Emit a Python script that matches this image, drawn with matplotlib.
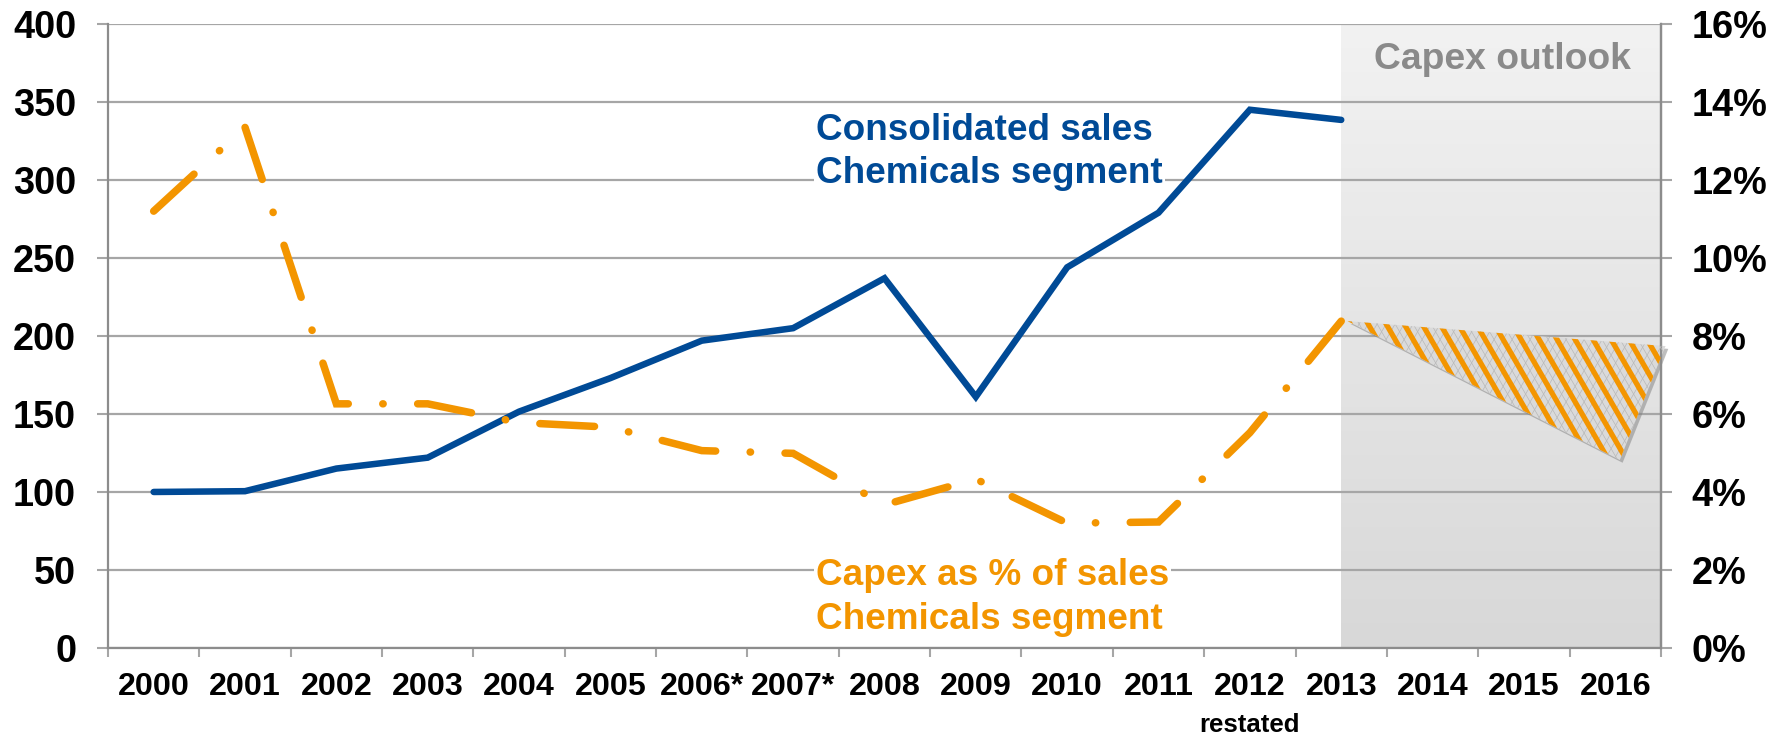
import matplotlib
matplotlib.use("Agg")
import matplotlib.pyplot as plt
import matplotlib.patheffects as pe
from matplotlib.patches import Polygon
from matplotlib.collections import LineCollection
from matplotlib.transforms import blended_transform_factory, IdentityTransform
from matplotlib.colors import LinearSegmentedColormap
import numpy as np

# ---------------- data ----------------
years = ['2000', '2001', '2002', '2003', '2004', '2005', '2006*', '2007*',
         '2008', '2009', '2010', '2011', '2012', '2013', '2014', '2015', '2016']
sales = [100, 100.5, 115, 122, 151.5, 173, 197, 205, 237, 161, 244, 279, 345, 338.5]
capex_pct = [11.2, 13.35, 6.26, 6.26, 5.78, 5.66, 5.06, 4.99, 3.67, 4.33, 3.2, 3.23, 5.52, 8.38]
# outlook wedge: start (2013), upper end, lower end (2016)
outlook_pct = [8.38, 7.74, 4.82]
left_ticks = [0, 50, 100, 150, 200, 250, 300, 350, 400]
right_ticks = [0, 2, 4, 6, 8, 10, 12, 14, 16]

BLUE = '#004a96'
ORANGE = '#f39500'
GRID = '#a6a6a6'
FONT = 'Liberation Sans'

plt.rcParams['font.family'] = [FONT, 'DejaVu Sans']
plt.rcParams['font.weight'] = 'bold'

fig = plt.figure(figsize=(17.85, 7.37), dpi=100)
ax = fig.add_axes([0.0605, 0.1208, 0.8700, 0.8467])
ax2 = ax.twinx()

n = len(years)
x_all = np.arange(n)
i2013 = years.index('2013')
i2016 = years.index('2016')

# shaded outlook area (vertical gradient, light at top)
grad = np.linspace(0, 1, 256).reshape(-1, 1)
cmap = LinearSegmentedColormap.from_list('g', ['#f2f2f2', '#d8d8d8'])
ax.imshow(grad, cmap=cmap, aspect='auto', extent=[i2013, n - 0.5, 0, 400],
          origin='upper', zorder=0)
ax.set_xlim(-0.5, n - 0.5)
ax.set_ylim(0, 400)
ax2.set_ylim(0, 16)

# grid
ax.set_axisbelow(True)
ax.yaxis.grid(True, color=GRID, linewidth=1.6)
ax.set_yticks(left_ticks)
ax.set_yticklabels([str(v) for v in left_ticks])
ax2.set_yticks(right_ticks)
ax2.set_yticklabels([f'{v}%' for v in right_ticks])

# x ticks
ax.set_xticks(x_all)
ax.set_xticklabels(years)
ax.set_xticks(np.arange(-0.5, n, 1.0), minor=True)
ax.tick_params(axis='x', which='major', length=0, pad=17.5, labelsize=23.2, labelcolor='black')
ax.tick_params(axis='x', which='minor', length=6.5, width=1.5, color=GRID, direction='out')
ax.tick_params(axis='y', which='major', length=8, width=1.5, color=GRID, pad=15, labelsize=27.3)
ax2.tick_params(axis='y', which='major', length=8, width=1.5, color=GRID, pad=14, labelsize=27.3)

for a in (ax, ax2):
    a.spines['top'].set_visible(False)
    for s in ('left', 'right', 'bottom'):
        a.spines[s].set_color('#8c8c8c')
        a.spines[s].set_linewidth(1.6)
ax2.spines['left'].set_visible(False)
ax2.spines['bottom'].set_visible(False)

# blue line
ax.plot(x_all[:len(sales)], sales, color=BLUE, linewidth=4.7,
        solid_joinstyle='miter', solid_capstyle='round', zorder=3)

# orange dash-dot line
ax2.plot(x_all[:len(capex_pct)], capex_pct, color=ORANGE, linewidth=5.4,
         linestyle=(0, (7.3, 4.6, 0.05, 4.6)), dash_capstyle='round',
         dash_joinstyle='miter', zorder=3)

# outlook wedge
wedge_x = [i2013 + 0.07, i2016 + 0.55, i2016 + 0.05]
verts = list(zip(wedge_x, outlook_pct))
base = Polygon(verts, closed=True, facecolor='#dadada', edgecolor='none', lw=0,
               zorder=2, clip_on=False,
               path_effects=[pe.SimplePatchShadow(offset=(2, -2), shadow_rgbFace='#7f7f7f', alpha=0.5),
                             pe.Normal()])
ax2.add_patch(base)

# stripes (decorative pattern clipped to the wedge), built in display pixels
pix = ax2.transData.transform(np.array(verts))
xmin, xmax = pix[:, 0].min() - 200, pix[:, 0].max() + 200
ymin, ymax = pix[:, 1].min() - 5, pix[:, 1].max() + 5
H = ymax - ymin

def stripes(angle_deg, spacing, mirror=False):
    dx = H / np.tan(np.radians(angle_deg))
    if mirror:
        dx = -dx
    return [[(c, ymax), (c + dx, ymin)] for c in np.arange(xmin, xmax, spacing)]

lattice1 = LineCollection(stripes(60, 9), colors='#b8b8b8', linewidths=0.5,
                          transform=IdentityTransform(), zorder=2.05)
lattice2 = LineCollection(stripes(60, 9, mirror=True), colors='#b8b8b8', linewidths=0.5,
                          transform=IdentityTransform(), zorder=2.05)
orange_stripes = LineCollection(stripes(60, 18), colors=ORANGE, linewidths=3.8,
                                transform=IdentityTransform(), zorder=2.1)
for lc in (lattice1, lattice2, orange_stripes):
    fig.add_artist(lc)
    lc.set_clip_path(base.get_path(), base.get_transform())

# annotations
bb = dict(facecolor='white', edgecolor='none', pad=1.5)
ax.text(7.25, 325.6, 'Consolidated sales', color=BLUE, fontsize=26.6,
        ha='left', va='baseline', bbox=bb, zorder=4)
ax.text(7.25, 298.3, 'Chemicals segment', color=BLUE, fontsize=26.6,
        ha='left', va='baseline', bbox=bb, zorder=4)
ax.text(7.25, 40.4, 'Capex as % of sales', color=ORANGE, fontsize=26.6,
        ha='left', va='baseline', bbox=bb, zorder=4)
ax.text(7.25, 12.0, 'Chemicals segment', color=ORANGE, fontsize=26.6,
        ha='left', va='baseline', bbox=bb, zorder=4)
ax.text((i2013 + n - 0.5) / 2 + 0.02, 377, 'Capex outlook', color='#8a8a8a',
        fontsize=26.8, ha='center', va='center', zorder=4)

tr = blended_transform_factory(ax.transData, ax.transAxes)
ax.text(years.index('2012'), -0.1234, 'restated', transform=tr, ha='center',
        va='center', fontsize=18.5, color='black')

fig.savefig('out.png', dpi=100)
